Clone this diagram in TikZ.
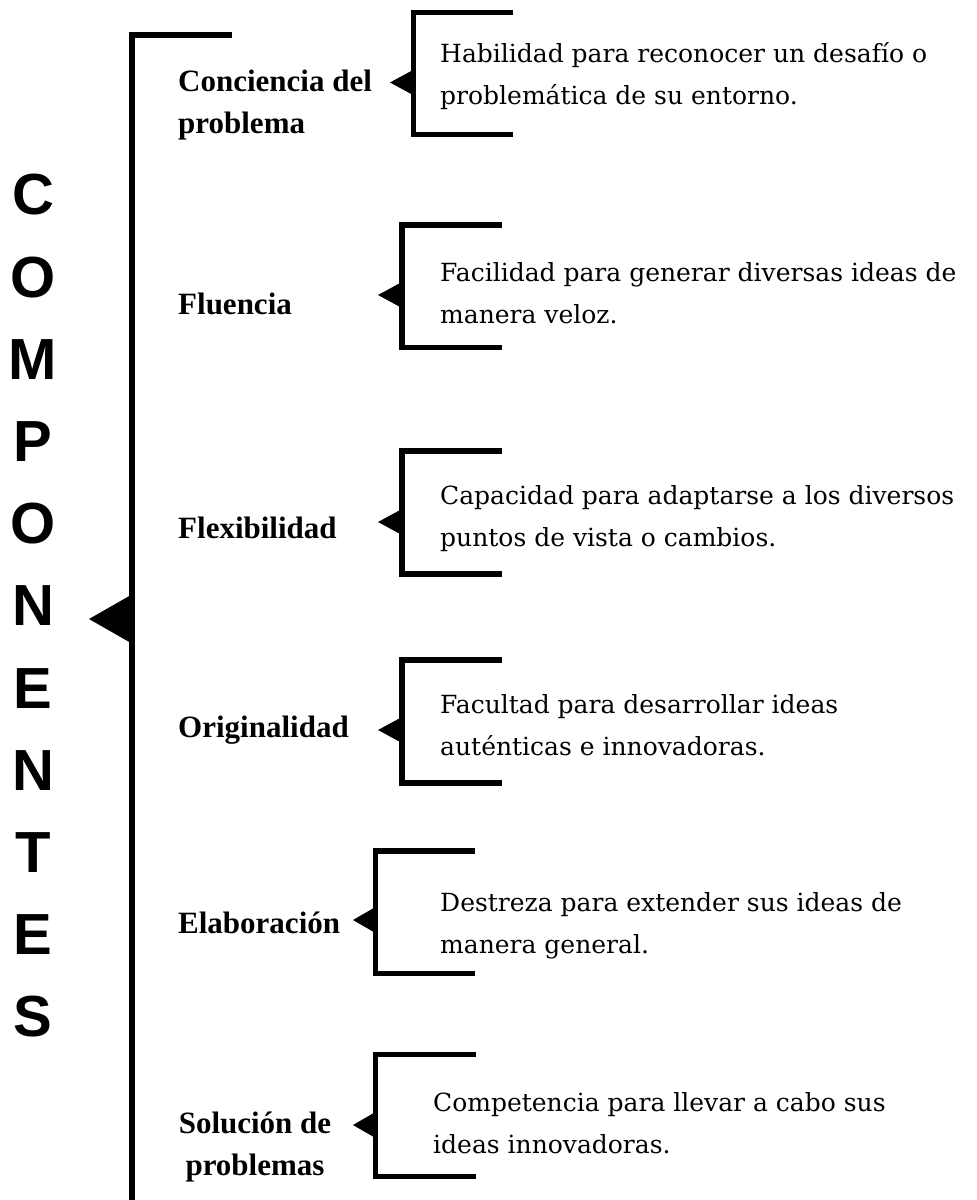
\documentclass[tikz,border=0pt]{standalone}
\usepackage{fontspec}
\setmainfont{DejaVu Serif}
\newfontfamily\lblfont{Liberation Serif}
\newfontfamily\compfont{Liberation Sans}
\begin{document}
\begin{tikzpicture}[x=1pt,y=-1pt,
  bar/.style={line width=5.5pt, line join=miter, line cap=butt},
  tipfill/.style={fill=black, draw=none},
  lbl/.style={inner sep=0pt, anchor=west, align=left,
    font=\lblfont\bfseries\fontsize{31}{42}\selectfont,
    execute at begin node=\strut, execute at end node=\strut},
  desc/.style={inner sep=0pt, anchor=west, align=left,
    font=\fontsize{25}{42}\selectfont,
    execute at begin node=\strut, execute at end node=\strut},
  comp/.style={inner sep=0pt, anchor=center, align=center,
    font=\compfont\bfseries\fontsize{58}{82.2}\selectfont}]
\useasboundingbox (0,0) rectangle (977,1200);

% vertical title
\node[comp] (title) at (33,606) {C\\O\\M\\P\\O\\N\\E\\N\\T\\E\\S};

% main spine
\draw[bar] (232,35) -- (132,35) -- (132,1205);
\fill[tipfill] (131,595) -- (89,619) -- (131,643) -- cycle;

% labels
\node[lbl] (l1) at (178,107.6) {Conciencia del\\problema};
\node[lbl] (l2) at (178,305.6) {Fluencia};
\node[lbl] (l3) at (178,529.6) {Flexibilidad};
\node[lbl] (l4) at (178,728.6) {Originalidad};
\node[lbl] (l5) at (178,924.6) {Elaboración};
\node[lbl, anchor=center, align=center] (l6) at (255,1149.6) {Solución de\\problemas};

% brackets and tips
\draw[bar] (513,12.5) -- (413.5,12.5) -- (413.5,134.5) -- (513,134.5);
\fill[tipfill] (413,70) -- (390,82.5) -- (413,95) -- cycle;

\draw[bar] (502,225) -- (402,225) -- (402,347.5) -- (502,347.5);
\fill[tipfill] (402,282) -- (378,295) -- (402,308) -- cycle;

\draw[bar] (502,451) -- (402,451) -- (402,574) -- (502,574);
\fill[tipfill] (402,509) -- (378,522) -- (402,535) -- cycle;

\draw[bar] (502,660) -- (402,660) -- (402,783) -- (502,783);
\fill[tipfill] (402,717) -- (378,730) -- (402,743) -- cycle;

\draw[bar] (475,851) -- (375.5,851) -- (375.5,973.5) -- (475,973.5);
\fill[tipfill] (375.5,907) -- (353,920) -- (375.5,933) -- cycle;

\draw[bar] (475.5,1054.5) -- (375.5,1054.5) -- (375.5,1176.5) -- (475.5,1176.5);
\fill[tipfill] (375.5,1112) -- (353,1125) -- (375.5,1138) -- cycle;

% descriptions
\node[desc] (d1) at (440,80.1) {Habilidad para reconocer un desafío o\\problemática de su entorno.};
\node[desc] (d2) at (440,299.1) {Facilidad para generar diversas ideas de\\manera veloz.};
\node[desc] (d3) at (440,522.6) {Capacidad para adaptarse a los diversos\\puntos de vista o cambios.};
\node[desc] (d4) at (440,731.6) {Facultad para desarrollar ideas\\auténticas e innovadoras.};
\node[desc] (d5) at (440,929.6) {Destreza para extender sus ideas de\\manera general.};
\node[desc] (d6) at (433,1129.1) {Competencia para llevar a cabo sus\\ideas innovadoras.};
\end{tikzpicture}
\end{document}
